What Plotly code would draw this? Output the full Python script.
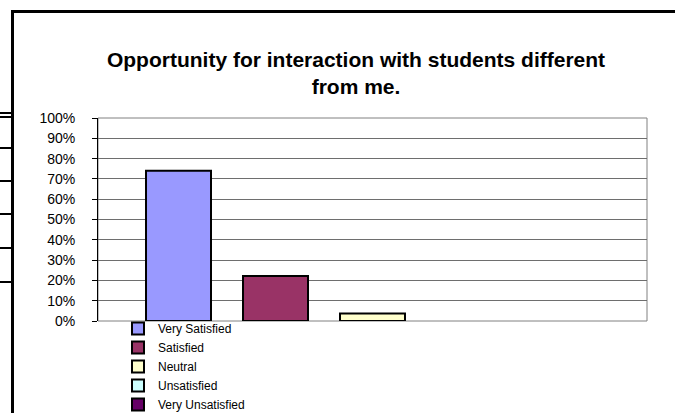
import plotly.graph_objects as go

# ---- data ----
categories = ["Very Satisfied", "Satisfied", "Neutral", "Unsatisfied", "Very Unsatisfied"]
values = [0.7407, 0.2222, 0.0370, 0.0, 0.0]
colors = ["#9999FF", "#993366", "#FFFFCC", "#CCFFFF", "#660066"]
title_text = "Opportunity for interaction with students different<br>from me."

W, H = 675, 413
L, R, T, B = 98, 647, 118, 321

def px_x(p):
    return (p - L) / (R - L)

def px_y(p):
    return (B - p) / (B - T)

fig = go.Figure()
for name, v, c in zip(categories, values, colors):
    fig.add_trace(go.Bar(
        x=[""], y=[v if v > 0 else None], name=name,
        marker=dict(color=c, line=dict(color="black", width=2)),
        hoverinfo="name+y",
    ))

shapes = []
# plot area border (gray)
shapes.append(dict(type="rect", xref="paper", yref="paper", x0=0, x1=1, y0=0, y1=1,
                   line=dict(color="#808080", width=1), layer="below"))
# outer chart frame (left and top)
shapes.append(dict(type="path", xref="paper", yref="paper",
                   path=f"M {px_x(12.5)},{px_y(420)} L {px_x(12.5)},{px_y(11.5)} L {px_x(690)},{px_y(11.5)}",
                   line=dict(color="black", width=3)))
# marks at far left (from a chart behind)
for yy in [113, 117, 148, 181, 214, 248, 282]:
    shapes.append(dict(type="line", xref="paper", yref="paper",
                       x0=px_x(-5), x1=px_x(12), y0=px_y(yy), y1=px_y(yy),
                       line=dict(color="black", width=2)))

fig.update_layout(
    width=W, height=H,
    margin=dict(l=L, r=W - R, t=T, b=H - B, pad=0, autoexpand=False),
    paper_bgcolor="white", plot_bgcolor="white",
    font=dict(family="Liberation Sans, Arial, sans-serif", color="black"),
    title=dict(text="<b>" + title_text + "</b>", x=356 / W, xanchor="center",
               xref="container", yref="container", y=1 - 67 / H, yanchor="top",
               font=dict(size=21, color="black")),
    barmode="group", bargap=0.1166, bargroupgap=0.33,
    showlegend=True,
    legend=dict(x=px_x(118), y=px_y(314), xanchor="left", yanchor="top",
                font=dict(size=12), bgcolor="rgba(0,0,0,0)", borderwidth=0,
                itemwidth=30, tracegroupgap=0),
    shapes=shapes,
)
fig.update_xaxes(showticklabels=False, showgrid=False, zeroline=False,
                 showline=False, ticks="")
fig.update_yaxes(range=[0, 1], dtick=0.1, tickformat=".0%",
                 showgrid=True, gridcolor="#6e6e6e", gridwidth=1,
                 zeroline=False, showline=True, linecolor="black", linewidth=1,
                 ticks="outside", ticklen=5, tickcolor="black",
                 tickfont=dict(size=14), ticklabelstandoff=14)

fig.write_html("out.html", config={"displayModeBar": False},
               post_script="document.body.style.margin='0';document.body.style.overflow='hidden';")
